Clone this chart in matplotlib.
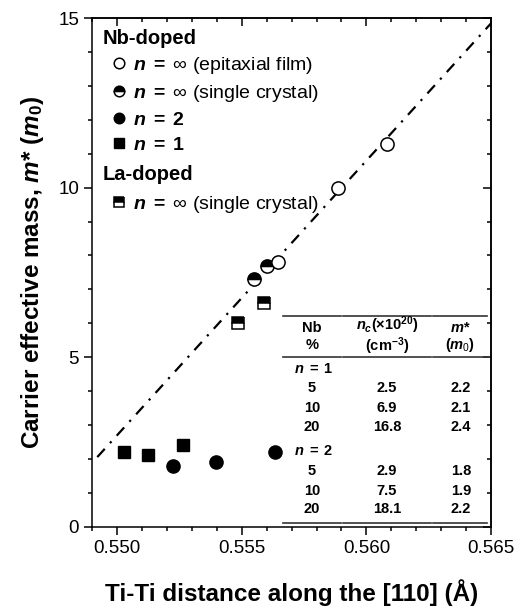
import matplotlib
matplotlib.use('Agg')
import matplotlib.pyplot as plt
from matplotlib.lines import Line2D
from matplotlib.ticker import MultipleLocator

plt.rcParams['font.family'] = ['Liberation Sans', 'DejaVu Sans']
plt.rcParams['mathtext.fontset'] = 'custom'
plt.rcParams['mathtext.rm'] = 'Liberation Sans'
plt.rcParams['mathtext.it'] = 'Liberation Sans:italic:bold'
plt.rcParams['mathtext.bf'] = 'Liberation Sans:bold'

# Nb-doped, n = inf, epitaxial film
film_x = [0.55644, 0.55885, 0.56083]
film_y = [7.8, 10.0, 11.3]
# Nb-doped, n = inf, single crystal
xtal_x = [0.55548, 0.55600]
xtal_y = [7.3, 7.7]
# Nb-doped, n = 2
n2_x = [0.55223, 0.55396, 0.55632]
n2_y = [1.8, 1.9, 2.2]
# Nb-doped, n = 1
n1_x = [0.55028, 0.55123, 0.55263]
n1_y = [2.2, 2.1, 2.4]
# La-doped, n = inf, single crystal
la_x = [0.55484, 0.55590]
la_y = [6.0, 6.6]
# dash-dot guide line
fit_x = [0.5492, 0.5650]
fit_y = [2.05, 14.85]

# inset table
nb_pct = ['5', '10', '20']
nc_n1 = ['2.5', '6.9', '16.8']
m_n1 = ['2.2', '2.1', '2.4']
nc_n2 = ['2.9', '7.5', '18.1']
m_n2 = ['1.8', '1.9', '2.2']

fig = plt.figure(figsize=(5.32, 6.08), dpi=100)
ax = fig.add_axes([0.1735, 0.134, 0.7494, 0.8359])

ms = 9.5
st_film = dict(marker='o', ms=ms, mfc='white', mec='black', mew=1.1, ls='none')
st_xtal = dict(marker='o', ms=ms, mfc='black', mfcalt='white', fillstyle='top', mec='black', mew=1.1, ls='none')
st_n2 = dict(marker='o', ms=ms, mfc='black', mec='black', ls='none')
st_n1 = dict(marker='s', ms=ms - 0.5, mfc='black', mec='black', ls='none')
st_la = dict(marker='s', ms=ms - 0.5, mfc='black', mfcalt='white', fillstyle='top', mec='black', mew=1.1, ls='none')

ax.plot(fit_x, fit_y, color='black', lw=1.6, ls=(0, (5, 3.5, 1, 3.5)), zorder=1)
ax.plot(n1_x, n1_y, **st_n1)
ax.plot(n2_x, n2_y, **st_n2)
ax.plot(la_x, la_y, **st_la)
ax.plot(xtal_x, xtal_y, **st_xtal)
ax.plot(film_x, film_y, **st_film)

ax.set_xlim(0.549, 0.565)
ax.set_ylim(0, 15)
ax.xaxis.set_major_locator(MultipleLocator(0.005))
ax.xaxis.set_minor_locator(MultipleLocator(0.001))
ax.yaxis.set_major_locator(MultipleLocator(5))
ax.yaxis.set_minor_locator(MultipleLocator(1))
ax.xaxis.set_major_formatter(matplotlib.ticker.FormatStrFormatter('%.3f'))
ax.tick_params(which='both', direction='out', labelsize=13.5, width=1.1)
ax.tick_params(which='major', length=6)
ax.tick_params(which='minor', length=3)
for s in ax.spines.values():
    s.set_linewidth(1.1)

top = ax.secondary_xaxis('top')
top.xaxis.set_major_locator(MultipleLocator(0.005))
top.xaxis.set_minor_locator(MultipleLocator(0.001))
top.tick_params(which='both', direction='in', labeltop=False, width=1.1)
top.tick_params(which='major', length=6)
top.tick_params(which='minor', length=3)
right = ax.secondary_yaxis('right')
right.yaxis.set_major_locator(MultipleLocator(5))
right.yaxis.set_minor_locator(MultipleLocator(1))
right.tick_params(which='both', direction='in', labelright=False, width=1.1)
right.tick_params(which='major', length=6)
right.tick_params(which='minor', length=3)
for sa in (top, right):
    for s in sa.spines.values():
        s.set_linewidth(1.1)

ax.set_xlabel('Ti-Ti distance along the [110] (Å)', fontsize=17.5, fontweight='bold', labelpad=16)
ax.set_ylabel(r'Carrier effective mass, $m$* ($m_\mathbf{0}$)', fontsize=17.5, fontweight='bold', labelpad=9)


# pixel position in the figure -> axes fraction
def px(x, y):
    return ((x - 92.3) / 398.7, (526.5 - y) / 508.2)


# legends (group titles as plain text)
leg_kw = dict(frameon=False, loc='upper left', fontsize=14, borderpad=0, borderaxespad=0,
              handlelength=0.8, handletextpad=0.3, labelspacing=0.38, markerscale=0.8)
h1 = [Line2D([], [], **st_film), Line2D([], [], **st_xtal),
      Line2D([], [], **st_n2), Line2D([], [], **st_n1)]
l1 = [r'$n\;\mathbf{=}\;\infty$ (epitaxial film)', r'$n\;\mathbf{=}\;\infty$ (single crystal)',
      r'$n\;\mathbf{=\;2}$', r'$n\;\mathbf{=\;1}$']
leg1 = ax.legend(h1, l1, bbox_to_anchor=px(111.7, 54.5), **leg_kw)
ax.add_artist(leg1)
leg2 = ax.legend([Line2D([], [], **st_la)], [r'$n\;\mathbf{=}\;\infty$ (single crystal)'],
                 bbox_to_anchor=px(111.7, 193.5), **leg_kw)
ax.text(*px(103, 38.3), 'Nb-doped', transform=ax.transAxes, fontsize=14.5,
        fontweight='bold', va='center', ha='left')
ax.text(*px(103, 174), 'La-doped', transform=ax.transAxes, fontsize=14.5,
        fontweight='bold', va='center', ha='left')

# inset table
tkw = dict(transform=ax.transAxes, fontsize=10.5, fontweight='bold', ha='center', va='center')
for y in (316, 357.3, 522.7):
    for x0, x1 in ((283, 341), (343, 431), (433, 487)):
        (a, b), (c, _) = px(x0, y), px(x1, y)
        ax.plot([a, c], [b, b], transform=ax.transAxes, color='#333333', lw=1.2, clip_on=False)

ax.text(*px(312, 328), 'Nb', **tkw)
ax.text(*px(312, 345), '%', **tkw)
ax.text(*px(387, 325.5), r'$n_c$(×$\mathbf{10^{20}}$)', **dict(tkw, fontsize=10.5))
ax.text(*px(387, 346), r'($\mathbf{cm^{-3}}$)', **dict(tkw, fontsize=10.5))
ax.text(*px(460, 328), r'$m$*', **tkw)
ax.text(*px(460, 345), r'($m_\mathit{0}$)', **tkw)

rows1 = [388.3, 407.7, 426.7]
rows2 = [470.7, 490.7, 509.3]
lab = dict(tkw, ha='left')
ax.text(*px(294, 369), r'$n\;\mathbf{=\;1}$', **lab)
ax.text(*px(294, 451), r'$n\;\mathbf{=\;2}$', **lab)
for y, p, c, m in zip(rows1, nb_pct, nc_n1, m_n1):
    ax.text(*px(312, y), p, **tkw)
    ax.text(*px(387, y), c, **tkw)
    ax.text(*px(461, y), m, **tkw)
for y, p, c, m in zip(rows2, nb_pct, nc_n2, m_n2):
    ax.text(*px(312, y), p, **tkw)
    ax.text(*px(387, y), c, **tkw)
    ax.text(*px(461, y), m, **tkw)

fig.savefig('out.png', dpi=100)
